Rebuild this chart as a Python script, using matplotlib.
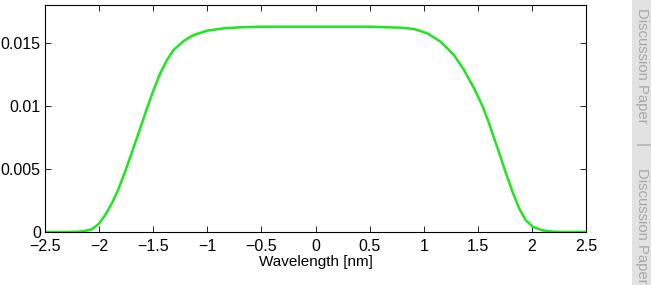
import numpy as np
import matplotlib.pyplot as plt

plt.rcParams["font.family"] = "Liberation Sans"

# values (wavelength in nm, response)
wavelength = [-2.5, -2.3, -2.2, -2.13, -2.068, -2.0, -1.944, -1.883, -1.821, -1.759,
              -1.697, -1.636, -1.605, -1.558, -1.497, -1.435, -1.373, -1.312, -1.219,
              -1.126, -1.003, -0.849, -0.694, -0.5, 0.0, 0.5, 0.787, 0.91, 1.034, 1.157,
              1.28, 1.373, 1.466, 1.543, 1.605, 1.636, 1.697, 1.759, 1.821, 1.883, 1.944,
              2.012, 2.099, 2.19, 2.3, 2.5]
response = [0.0, 0.0, 0.00002, 0.00008, 0.00021, 0.00067, 0.00133, 0.00225, 0.0034, 0.0048,
            0.0063, 0.00783, 0.0086, 0.0098, 0.01125, 0.01258, 0.01363, 0.01443, 0.01514,
            0.01562, 0.01596, 0.01615, 0.01623, 0.01628, 0.01628, 0.01628, 0.0162, 0.0161, 0.01575, 0.01509,
            0.01403, 0.01284, 0.01139, 0.0100, 0.0086, 0.0078, 0.0063, 0.0047, 0.00318, 0.00186, 0.00093,
            0.0004, 0.00013, 0.00003, 0.0, 0.0]

xticks = [-2.5, -2, -1.5, -1, -0.5, 0, 0.5, 1, 1.5, 2, 2.5]
xticklabels = ['\u22122.5', '\u22122', '\u22121.5', '\u22121', '\u22120.5', '0', '0.5', '1', '1.5', '2', '2.5']
yticks = [0, 0.005, 0.01, 0.015]
yticklabels = ['0', '0.005', '0.01', '0.015']

fig = plt.figure(figsize=(6.51, 2.85), dpi=100)
ax = fig.add_axes([45 / 651, 53 / 285, 541 / 651, 227 / 285])
ax.plot(wavelength, response, color='#1ee61e', linewidth=1.8)
ax.set_xlim(-2.5, 2.5)
ax.set_ylim(0, 0.018)
ax.set_xticks(xticks)
ax.set_xticklabels(xticklabels)
ax.set_yticks(yticks)
ax.set_yticklabels(yticklabels)
ax.tick_params(direction='in', top=True, right=True, labelsize=11.5, length=4, width=0.6)
ax.tick_params(axis='x', pad=5)
ax.tick_params(axis='y', pad=3)
for s in ax.spines.values():
    s.set_linewidth(0.8)
ax.set_xlabel("Wavelength [nm]", fontsize=11, labelpad=1)

# side strip of the journal page
fig.patches.append(plt.Rectangle((632 / 651, 0), 19 / 651, 1, transform=fig.transFigure,
                                 facecolor='#e2e2e2', edgecolor='none'))
fig.text(642 / 651, 1 - 8 / 285, "Discussion Paper", rotation=-90, ha='center', va='top',
         fontsize=10.7, color='#a8a8a8')
fig.text(642 / 651, 1 - 145 / 285, "|", rotation=-90, ha='center', va='center',
         fontsize=10.7, color='#a8a8a8')
fig.text(642 / 651, 1 - 168 / 285, "Discussion Paper", rotation=-90, ha='center', va='top',
         fontsize=10.7, color='#a8a8a8')

fig.savefig('out.png', dpi=100)
